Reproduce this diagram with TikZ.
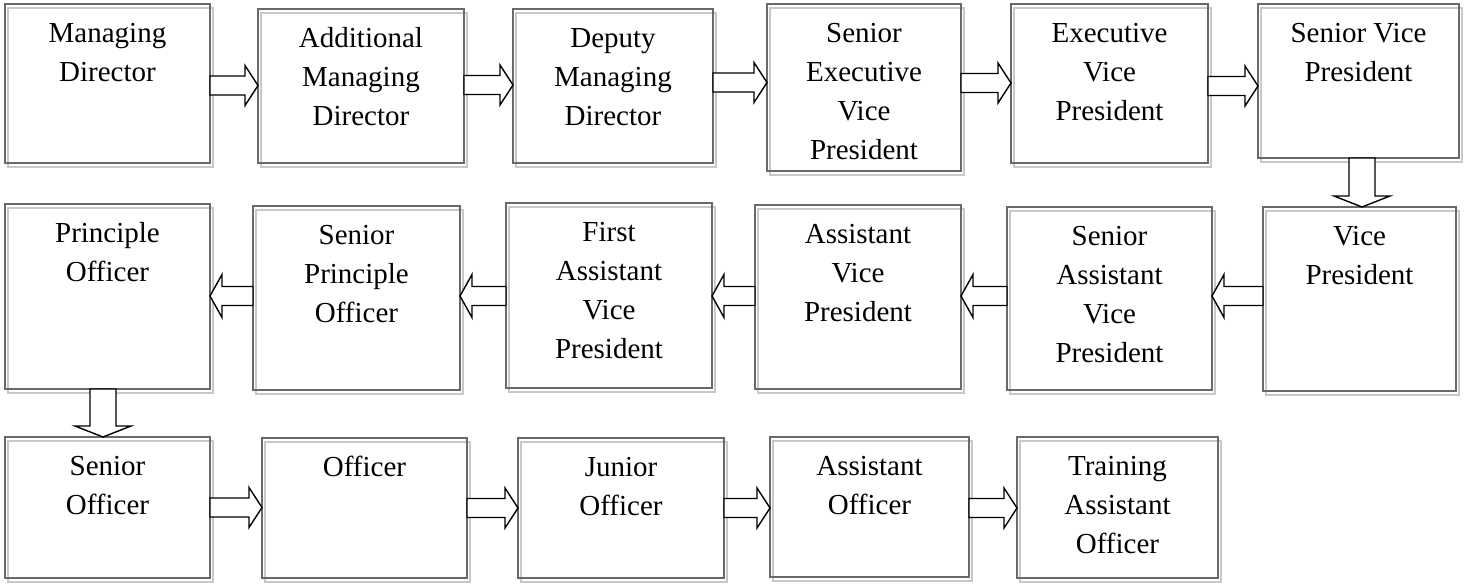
\documentclass[tikz,border=0pt]{standalone}
\usepackage{fontspec}
\setmainfont{Liberation Serif}
\usetikzlibrary{calc}
\definecolor{boxgray}{RGB}{105,105,105}
\definecolor{shadowgray}{RGB}{200,200,200}
\tikzset{
  box/.style={draw=boxgray, line width=2pt, inner sep=0pt, outer sep=0pt, anchor=north west},
  shadowline/.style={draw=shadowgray, line width=2pt},
  lbl/.style={anchor=north, inner sep=0pt, align=center, font=\fontsize{29}{39}\selectfont},
  blockarrow/.style={draw=black, fill=white, line width=1.4pt, line join=miter},
}
\newcommand\bx[5]{%
  \draw[shadowline] (#2+3,#3+4) rectangle ++(#4,#5);
  \node[box, minimum width=#4pt, minimum height=#5pt] (#1) at (#2,#3) {};}
\newcommand\tx[2]{\node[lbl] (#1t) at ($(#1.north)+(0,11)$) {\strut #2};}
\newcommand\arR[3]{%
  \path (#1.east |- 0,#3) coordinate (s) (#2.west |- 0,#3) coordinate (e);
  \draw[blockarrow] ($(s)+(0,-9.5)$) -- ($(e)+(-13,-9.5)$) -- ($(e)+(-13,-20)$) -- (e)
    -- ($(e)+(-13,20)$) -- ($(e)+(-13,9.5)$) -- ($(s)+(0,9.5)$) -- cycle;}
\newcommand\arL[3]{%
  \path (#1.west |- 0,#3) coordinate (s) (#2.east |- 0,#3) coordinate (e);
  \draw[blockarrow] ($(s)+(0,-9.5)$) -- ($(e)+(12,-9.5)$) -- ($(e)+(12,-21.5)$) -- (e)
    -- ($(e)+(12,21.5)$) -- ($(e)+(12,9.5)$) -- ($(s)+(0,9.5)$) -- cycle;}
\newcommand\arD[3]{%
  \path (#1.south -| #3,0) coordinate (s) (#2.north -| #3,0) coordinate (e);
  \draw[blockarrow] ($(s)+(-13,0)$) -- ($(e)+(-13,-11)$) -- ($(e)+(-28,-11)$) -- (e)
    -- ($(e)+(28,-11)$) -- ($(e)+(13,-11)$) -- ($(s)+(13,0)$) -- cycle;}
\begin{document}
\begin{tikzpicture}[x=1pt,y=-1pt]
\useasboundingbox (0,0) rectangle (1465,584);
% row 1
\bx{b1}{5}{4}{205}{159}
\bx{b2}{258}{9}{206}{154}
\bx{b3}{513}{9}{200}{154}
\bx{b4}{767}{4}{194}{167}
\bx{b5}{1011}{4}{197}{159}
\bx{b6}{1258}{4}{201}{154}
% row 2
\bx{c1}{1263}{207}{193}{184}
\bx{c2}{1007}{207}{205}{183}
\bx{c3}{755}{205}{206}{184}
\bx{c4}{506}{203}{206}{185}
\bx{c5}{253}{206}{207}{184}
\bx{c6}{5}{204}{205}{185}
% row 3
\bx{d1}{5}{437}{205}{141}
\bx{d2}{262}{438}{205}{140}
\bx{d3}{518}{438}{206}{140}
\bx{d4}{770}{437}{199}{140}
\bx{d5}{1017}{437}{201}{141}
% texts
\tx{b1}{Managing\\Director}
\tx{b2}{Additional\\Managing\\Director}
\tx{b3}{Deputy\\Managing\\Director}
\tx{b4}{Senior\\Executive\\Vice\\President}
\tx{b5}{Executive\\Vice\\President}
\tx{b6}{Senior Vice\\President}
\tx{c1}{Vice\\President}
\tx{c2}{Senior\\Assistant\\Vice\\President}
\tx{c3}{Assistant\\Vice\\President}
\tx{c4}{First\\Assistant\\Vice\\President}
\tx{c5}{Senior\\Principle\\Officer}
\tx{c6}{Principle\\Officer}
\tx{d1}{Senior\\Officer}
\tx{d2}{Officer}
\tx{d3}{Junior\\Officer}
\tx{d4}{Assistant\\Officer}
\tx{d5}{Training\\Assistant\\Officer}
% arrows
\arR{b1}{b2}{85.5}
\arR{b2}{b3}{85}
\arR{b3}{b4}{82.5}
\arR{b4}{b5}{83}
\arR{b5}{b6}{86}
\arD{b6}{c1}{1362}
\arL{c1}{c2}{296}
\arL{c2}{c3}{296}
\arL{c3}{c4}{296}
\arL{c4}{c5}{296}
\arL{c5}{c6}{296}
\arD{c6}{d1}{103}
\arR{d1}{d2}{507.5}
\arR{d2}{d3}{508}
\arR{d3}{d4}{508}
\arR{d4}{d5}{508}
\end{tikzpicture}
\end{document}
